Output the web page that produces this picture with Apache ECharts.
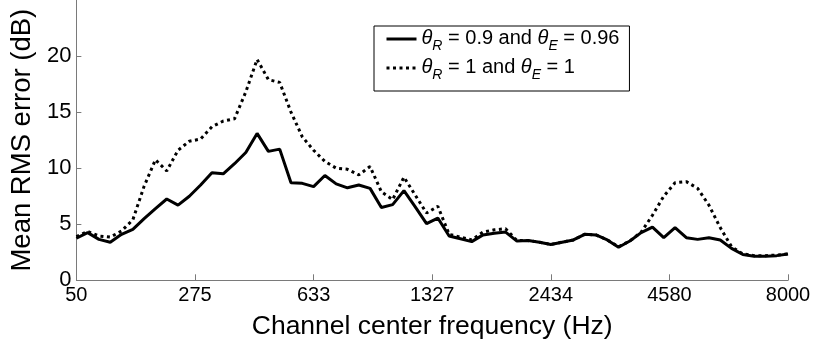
<!DOCTYPE html>
<html>
<head>
<meta charset="utf-8">
<script src="https://cdn.jsdelivr.net/npm/echarts@6/dist/echarts.min.js"></script>
<style>
html,body{margin:0;padding:0;background:#fff;}
#chart{width:818px;height:347px;}
</style>
</head>
<body>
<div id="chart"></div>
<script>
// Channel index (64 gammatone channels) and tick labels (Hz)
var tickLabels = ['50', '275', '633', '1327', '2434', '4580', '8000'];
var tickStep = 10.5;

// θR = 0.9 and θE = 0.96
var seriesTuned = [3.75, 4.25, 3.65, 3.4, 4.1, 4.55, 5.5, 6.4, 7.25, 6.7,
  7.5, 8.5, 9.6, 9.5, 10.4, 11.4, 13.1, 11.5, 11.7, 8.7,
  8.65, 8.35, 9.35, 8.6, 8.25, 8.5, 8.2, 6.5, 6.75, 8.0,
  6.55, 5.05, 5.55, 3.95, 3.7, 3.45, 4.05, 4.2, 4.3, 3.5,
  3.55, 3.4, 3.2, 3.4, 3.6, 4.1, 4.05, 3.6, 2.95, 3.5,
  4.25, 4.75, 3.8, 4.7, 3.8, 3.65, 3.8, 3.6, 2.85, 2.3,
  2.15, 2.15, 2.2, 2.35];

// θR = 1 and θE = 1
var seriesUnit = [3.9, 4.35, 3.95, 3.85, 4.4, 5.4, 8.4, 10.75, 9.75, 11.6,
  12.4, 12.6, 13.7, 14.2, 14.4, 16.8, 19.7, 17.9, 17.65, 15.0,
  12.8, 11.6, 10.6, 10.0, 9.9, 9.4, 10.15, 7.9, 7.2, 9.2,
  7.6, 6.0, 6.6, 4.1, 3.85, 3.6, 4.3, 4.5, 4.6, 3.55,
  3.55, 3.4, 3.2, 3.4, 3.6, 4.1, 4.05, 3.6, 3.0, 3.5,
  4.3, 5.8, 7.5, 8.7, 8.8, 8.2, 6.7, 4.7, 3.0, 2.35,
  2.2, 2.2, 2.25, 2.35];

var legendLabels = {
  tuned: '{t|θ}{s|R}{n| = 0.9 and }{t|θ}{s|E}{n| = 0.96}',
  unit: '{t|θ}{s|R}{n| = 1 and }{t|θ}{s|E}{n| = 1}'
};

function pairs(arr) {
  return arr.map(function (v, i) { return [i, v]; });
}

var font = 'Liberation Sans, Arial, sans-serif';
var chart = echarts.init(document.getElementById('chart'), null, {renderer: 'canvas'});
chart.setOption({
  animation: false,
  backgroundColor: '#fff',
  grid: {left: 75, right: 30, top: -3.5, bottom: 66.7, containLabel: false},
  legend: {
    orient: 'vertical',
    left: 374,
    top: 26,
    backgroundColor: '#fff',
    borderColor: '#000',
    borderWidth: 1,
    padding: [2, 10, 9, 11],
    itemGap: 4,
    itemWidth: 30,
    itemHeight: 14,
    itemStyle: {opacity: 0},
    lineStyle: {width: 3, opacity: 1},
    data: ['tuned', 'unit'],
    formatter: function (name) { return legendLabels[name]; },
    textStyle: {
      fontFamily: font,
      color: '#000',
      padding: [0, 0, 0, 0],
      rich: {
        t: {fontFamily: font, fontSize: 20, fontStyle: 'italic', lineHeight: 22, verticalAlign: 'top', color: '#000'},
        n: {fontFamily: font, fontSize: 20, lineHeight: 22, verticalAlign: 'top', color: '#000'},
        s: {fontFamily: font, fontSize: 14, fontStyle: 'italic', lineHeight: 14, padding: [11, 0, 0, 0], verticalAlign: 'top', color: '#000'}
      }
    }
  },
  xAxis: {
    type: 'value',
    min: 0,
    max: 63,
    interval: tickStep,
    name: 'Channel center frequency (Hz)',
    nameLocation: 'middle',
    nameGap: 33,
    nameTextStyle: {fontFamily: font, fontSize: 26.5, color: '#000'},
    axisLine: {show: true, lineStyle: {color: '#7a7a7a', width: 1}},
    axisTick: {show: true, inside: true, length: 6, lineStyle: {color: '#7a7a7a', width: 1}},
    splitLine: {show: false},
    axisLabel: {
      fontFamily: font, fontSize: 20, color: '#000', margin: 5,
      formatter: function (v) { return tickLabels[Math.round(v / tickStep)]; }
    }
  },
  yAxis: {
    type: 'value',
    min: 0,
    max: 25,
    interval: 5,
    name: 'Mean RMS error (dB)',
    nameLocation: 'middle',
    nameGap: 38,
    nameTextStyle: {fontFamily: font, fontSize: 27.5, color: '#000'},
    axisLine: {show: true, lineStyle: {color: '#7a7a7a', width: 1}},
    axisTick: {show: true, inside: true, length: 5, lineStyle: {color: '#7a7a7a', width: 1}},
    splitLine: {show: false},
    axisLabel: {
      fontFamily: font, fontSize: 22, color: '#000', margin: 5, showMaxLabel: false
    }
  },
  series: [
    {
      name: 'tuned', type: 'line', data: pairs(seriesTuned), symbol: 'none',
      color: '#000',
      lineStyle: {color: '#000', width: 3, type: 'solid'}
    },
    {
      name: 'unit', type: 'line', data: pairs(seriesUnit), symbol: 'none',
      color: '#000',
      lineStyle: {color: '#000', width: 3, type: [3, 3.5]}
    }
  ]
});
</script>
</body>
</html>
